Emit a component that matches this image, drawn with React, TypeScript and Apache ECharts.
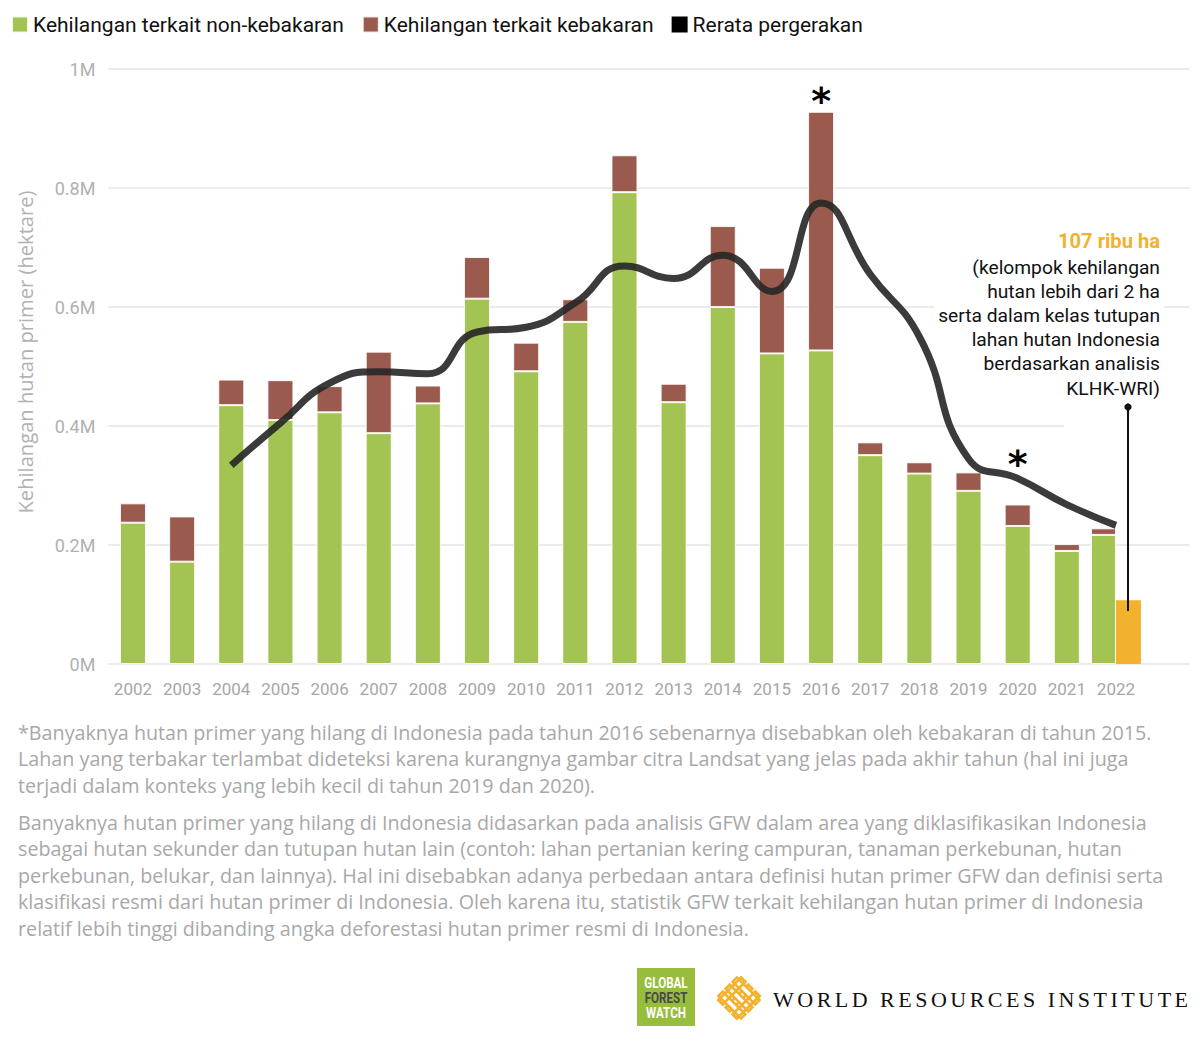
import React, { useEffect, useRef } from "react";
import * as echarts from "echarts";

const years = [
  "2002", "2003", "2004", "2005", "2006", "2007", "2008", "2009", "2010", "2011",
  "2012", "2013", "2014", "2015", "2016", "2017", "2018", "2019", "2020", "2021", "2022",
];
// hectares, non-fire related primary forest loss
const nonFireLoss = [
  237500, 172000, 435000, 410000, 423000, 388000, 438000, 614000, 492000, 575000,
  793000, 440000, 600000, 522000, 527000, 351000, 320000, 291000, 232000, 190000, 217000,
];
// hectares, fire related primary forest loss
const fireLoss = [
  32500, 76000, 43000, 67000, 44000, 137000, 30000, 70000, 48000, 38000,
  62000, 31000, 136000, 144000, 401000, 21500, 19000, 31000, 36000, 11500, 11000,
];
// moving average line
const movingAverage = [
  null, null, 334000, 405000, 472000, 491000, 488000, 558000, 566000, 607000,
  669000, 648000, 687000, 626000, 775000, 655000, 550000, 345000, 312000, 268000, 233000,
];
const klhkWri2022 = 107000;
const asteriskYears = ["2016", "2020"];

const legendNames = [
  "Kehilangan terkait non-kebakaran",
  "Kehilangan terkait kebakaran",
  "Rerata pergerakan",
];

const annotationLines = [
  "(kelompok kehilangan",
  "hutan lebih dari 2 ha",
  "serta dalam kelas tutupan",
  "lahan hutan Indonesia",
  "berdasarkan analisis",
  "KLHK-WRI)",
];

const footnote1 = [
  "*Banyaknya hutan primer yang hilang di Indonesia pada tahun 2016 sebenarnya disebabkan oleh kebakaran di tahun 2015.",
  "Lahan yang terbakar terlambat dideteksi karena kurangnya gambar citra Landsat yang jelas pada akhir tahun (hal ini juga",
  "terjadi dalam konteks yang lebih kecil di tahun 2019 dan 2020).",
];
const footnote2 = [
  "Banyaknya hutan primer yang hilang di Indonesia didasarkan pada analisis GFW dalam area yang diklasifikasikan Indonesia",
  "sebagai hutan sekunder dan tutupan hutan lain (contoh: lahan pertanian kering campuran, tanaman perkebunan, hutan",
  "perkebunan, belukar, dan lainnya). Hal ini disebabkan adanya perbedaan antara definisi hutan primer GFW dan definisi serta",
  "klasifikasi resmi dari hutan primer di Indonesia. Oleh karena itu, statistik GFW terkait kehilangan hutan primer di Indonesia",
  "relatif lebih tinggi dibanding angka deforestasi hutan primer resmi di Indonesia.",
];

const GREEN = "#a3c452";
const BROWN = "#9a5a4e";
const ORANGE = "#f2b22e";
const NOTE_FONT = "Open Sans";

export default function App() {
  const ref = useRef<HTMLDivElement>(null);

  useEffect(() => {
    if (!ref.current) return;
    const chart = echarts.init(ref.current, null, { renderer: "svg" });
    const last = years.length - 1;
    const cats = [...years, ""];

    const mainGreen = nonFireLoss.map((v, i) => (i === last ? "-" : v));
    const mainBrown = fireLoss.map((v, i) => {
      if (i === last) return "-";
      if (asteriskYears.includes(years[i])) {
        return {
          value: v,
          label: {
            show: true,
            formatter: "*",
            position: "top",
            distance: years[i] === "2016" ? -8 : 22,
            fontSize: 38,
            fontWeight: "bold",
            color: "#000",
            fontFamily: "DejaVu Sans",
          },
        };
      }
      return v;
    });
    const lastGreen = nonFireLoss.map((v, i) => (i === last ? v : "-"));
    const lastBrown = fireLoss.map((v, i) => (i === last ? v : "-"));
    const klhk = years.map((_, i) => (i === last ? klhkWri2022 : "-"));

    const barItem = (c: string) => ({ color: c, borderColor: "rgba(255,255,255,0.85)", borderWidth: 1 });

    // measuring helper
    const cv = document.createElement("canvas").getContext("2d")!;
    const fitFont = (text: string, family: string, weight: string, target: number, base: number) => {
      cv.font = `${weight} ${base}px ${family}`;
      const w = cv.measureText(text).width;
      return w > 0 ? (base * target) / w : base;
    };

    const noteSize = fitFont(footnote1[0], `"${NOTE_FONT}"`, "normal", 1134, 19);
    const titleSize = fitFont("Kehilangan hutan primer (hektare)", `"${NOTE_FONT}"`, "normal", 323, 19);
    const annSize = fitFont(annotationLines[2], '"Roboto"', "normal", 222, 19);
    const annBoldSize = fitFont("107 ribu ha", '"Roboto"', "bold", 102, 18);

    // WRI wordmark with letter spacing
    const wriText = "WORLD RESOURCES INSTITUTE";
    const wriFont = '22px "Liberation Serif", "DejaVu Serif", serif';
    cv.font = wriFont;
    const widths = wriText.split("").map((ch) => cv.measureText(ch).width);
    const total = widths.reduce((a, b) => a + b, 0);
    const wriLeft = 773;
    const wriRight = 1188;
    const spacing = (wriRight - wriLeft - total) / (wriText.length - 1);
    const wriChars: any[] = [];
    let cx = wriLeft;
    wriText.split("").forEach((ch, i) => {
      wriChars.push({
        type: "text",
        x: cx,
        y: 999,
        z: 10,
        style: {
          text: ch,
          font: wriFont,
          fill: "#111",
          align: "left",
          verticalAlign: "middle",
        },
      });
      cx += widths[i] + spacing;
    });

    // WRI woven icon
    const weave: any[] = [];
    [-10, 0, 10].forEach((o) => {
      weave.push({
        type: "rect",
        shape: { x: -16, y: o - 3, width: 32, height: 6 },
        style: { fill: "#fff", stroke: ORANGE, lineWidth: 2.6 },
      });
    });
    [-10, 0, 10].forEach((o) => {
      weave.push({
        type: "rect",
        shape: { x: o - 3, y: -16, width: 6, height: 32 },
        style: { fill: "#fff", stroke: ORANGE, lineWidth: 2.6 },
      });
    });
    [-10, 10].forEach((o) => {
      weave.push({
        type: "rect",
        shape: { x: -16, y: o - 3, width: 32, height: 6 },
        style: { fill: "none", stroke: ORANGE, lineWidth: 2.6 },
      });
    });

    const graphics: any[] = [
      // y-axis title
      {
        type: "text",
        x: 25,
        y: 352,
        rotation: Math.PI / 2,
        style: {
          text: "Kehilangan hutan primer (hektare)",
          font: `${titleSize}px "${NOTE_FONT}"`,
          fill: "#b2b2b2",
          align: "center",
          verticalAlign: "middle",
        },
      },
      // white cover behind annotation
      {
        type: "rect",
        z: 1,
        shape: { x: 1064, y: 398, width: 136, height: 36 },
        style: { fill: "#fff" },
      },
      {
        type: "text",
        x: 1164,
        y: 241,
        z: 10,
        style: {
          text: "107 ribu ha",
          font: `bold ${annBoldSize}px "Roboto"`,
          fill: ORANGE,
          align: "right",
          verticalAlign: "middle",
          backgroundColor: "#fff",
          padding: [2, 4, 2, 4],
        },
      },
      ...annotationLines.map((t, i) => ({
        type: "text",
        x: 1164,
        y: 267 + i * 24.2,
        z: 10,
        style: {
          text: t,
          font: `${annSize}px "Roboto"`,
          fill: "#111",
          align: "right",
          verticalAlign: "middle",
          backgroundColor: "#fff",
          padding: [3, 4, 3, 4],
        },
      })),
      {
        type: "line",
        z: 11,
        shape: { x1: 1128, y1: 407, x2: 1128, y2: 611 },
        style: { stroke: "#111", lineWidth: 2 },
      },
      {
        type: "circle",
        z: 11,
        shape: { cx: 1128, cy: 407, r: 3.6 },
        style: { fill: "#111" },
      },
      // footnotes
      ...footnote1.map((t, i) => ({
        type: "text",
        x: 18,
        y: 732 + i * 26.5,
        style: {
          text: t,
          font: `${noteSize}px "${NOTE_FONT}"`,
          fill: "#a8a8a8",
          align: "left",
          verticalAlign: "middle",
        },
      })),
      ...footnote2.map((t, i) => ({
        type: "text",
        x: 18,
        y: 822 + i * 26.5,
        style: {
          text: t,
          font: `${noteSize}px "${NOTE_FONT}"`,
          fill: "#a8a8a8",
          align: "left",
          verticalAlign: "middle",
        },
      })),
      // GFW logo
      {
        type: "rect",
        shape: { x: 637, y: 968, width: 58, height: 58 },
        style: { fill: "#97bd3d" },
      },
      ...[
        ["GLOBAL", "#ffffff", 983],
        ["FOREST", "#4a4a4a", 998],
        ["WATCH", "#ffffff", 1013],
      ].map(([t, c, y]) => ({
        type: "text",
        x: 666,
        y: y as number,
        scaleX: 0.8,
        z: 10,
        style: {
          text: t as string,
          font: 'bold 14.5px "Roboto"',
          fill: c as string,
          align: "center",
          verticalAlign: "middle",
        },
      })),
      {
        type: "group",
        x: 739,
        y: 998,
        rotation: Math.PI / 4,
        children: weave,
      },
      ...wriChars,
    ];

    const option: any = {
      animation: false,
      backgroundColor: "#fff",
      textStyle: { fontFamily: "Roboto" },
      legend: {
        data: legendNames,
        left: 6,
        top: 9,
        icon: "rect",
        itemWidth: 16,
        itemHeight: 16,
        itemGap: 18,
        selectedMode: false,
        textStyle: { fontSize: 21, color: "#111", fontFamily: "Roboto" },
      },
      grid: { left: 108.4, right: 10.3, top: 69, bottom: 375, containLabel: false },
      xAxis: [
        {
          type: "category",
          data: cats,
          axisLine: { show: false },
          axisTick: { show: false },
          axisLabel: { color: "#a6a6a6", fontSize: 17, margin: 16, interval: 0 },
        },
        {
          type: "category",
          data: cats,
          show: false,
        },
      ],
      yAxis: {
        type: "value",
        min: 0,
        max: 1000000,
        interval: 200000,
        axisLine: { show: false },
        axisTick: { show: false },
        splitLine: { lineStyle: { color: "#ebebeb", width: 2 } },
        axisLabel: {
          color: "#b0b0b0",
          fontSize: 18,
          margin: 13,
          formatter: (v: number) => (v === 0 ? "0M" : `${v / 1000000}M`),
        },
      },
      series: [
        {
          name: legendNames[0],
          type: "bar",
          stack: "loss",
          xAxisIndex: 0,
          barWidth: 26,
          itemStyle: barItem(GREEN),
          data: mainGreen,
        },
        {
          name: legendNames[1],
          type: "bar",
          stack: "loss",
          xAxisIndex: 0,
          barWidth: 26,
          itemStyle: barItem(BROWN),
          data: mainBrown,
        },
        {
          name: legendNames[0],
          type: "bar",
          stack: "last",
          xAxisIndex: 1,
          barWidth: 25,
          barGap: "0%",
          itemStyle: barItem(GREEN),
          data: lastGreen,
        },
        {
          name: legendNames[1],
          type: "bar",
          stack: "last",
          xAxisIndex: 1,
          barWidth: 25,
          barGap: "0%",
          itemStyle: barItem(BROWN),
          data: lastBrown,
        },
        {
          name: "KLHK-WRI 2022",
          type: "bar",
          xAxisIndex: 1,
          barWidth: 25,
          barGap: "0%",
          itemStyle: { color: ORANGE },
          data: klhk,
        },
        {
          name: legendNames[2],
          type: "line",
          xAxisIndex: 0,
          smooth: 0.5,
          showSymbol: false,
          connectNulls: false,
          z: 5,
          itemStyle: { color: "#000" },
          lineStyle: { color: "#262626", width: 7, opacity: 0.9 },
          data: movingAverage.map((v) => (v === null ? "-" : v)),
        },
      ],
      graphic: graphics,
    };

    chart.setOption(option);
    return () => chart.dispose();
  }, []);

  return (
    <div
      ref={ref}
      style={{ position: "absolute", left: 0, top: 0, width: 1200, height: 1039, background: "#fff" }}
    />
  );
}
